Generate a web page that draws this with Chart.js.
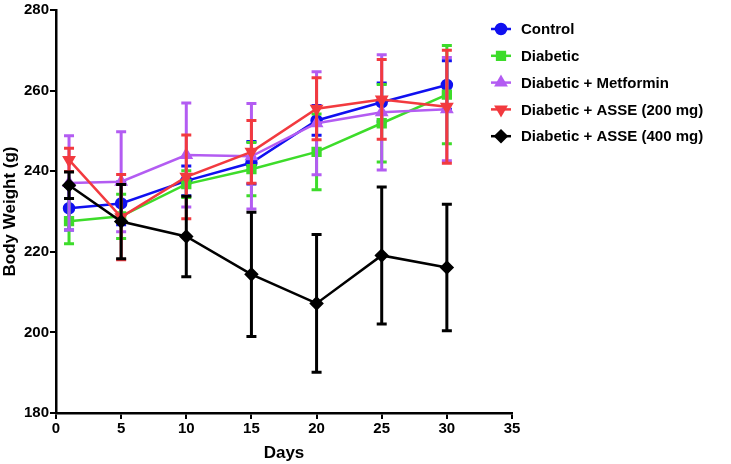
<!DOCTYPE html>
<html>
<head>
<meta charset="utf-8">
<script src="https://cdn.jsdelivr.net/npm/chart.js@4"></script>
<style>
  html, body { margin: 0; padding: 0; background: #fff; }
  #wrap { width: 731px; height: 464px; }
</style>
</head>
<body>
<div id="wrap"><canvas id="chart" width="731" height="464"></canvas></div>
<script>
// --------- Données ----------------------------------
const days = [1, 5, 10, 15, 20, 25, 30];

const control     = [230.8, 232.0, 237.6, 242.1, 252.6, 257.1, 261.4];
const controlSd   = [5.4, 5.3, 3.7, 5.3, 3.7, 4.8, 6.0];

const diabetic    = [227.6, 228.8, 236.8, 240.5, 244.8, 251.9, 259.0];
const diabeticSd  = [5.6, 5.5, 3.3, 6.6, 9.4, 9.6, 12.2];

const metformin   = [237.1, 237.4, 244.0, 243.7, 251.9, 254.6, 255.4];
const metforminSd = [11.7, 12.4, 12.9, 13.1, 12.8, 14.3, 12.8];

const asse200     = [242.8, 228.6, 238.6, 244.8, 255.5, 257.8, 256.0];
const asse200Sd   = [2.9, 10.6, 10.4, 7.8, 7.7, 9.9, 14.0];

const asse400     = [236.5, 227.5, 223.8, 214.4, 207.2, 219.1, 216.1];
const asse400Sd   = [3.3, 9.2, 10.0, 15.4, 17.1, 17.0, 15.7];

const xTicks = [0, 5, 10, 15, 20, 25, 30, 35];
const yTicks = [180, 200, 220, 240, 260, 280];

const FONT = "'Liberation Sans', Arial, sans-serif";

function points(values) {
    return values.map((v, i) => ({ x: days[i], y: v }));
}

function makeSet(label, values, sd, color, style, rotation, order) {
    return {
        label: label,
        data: points(values),
        sd: sd,
        borderColor: color,
        backgroundColor: color,
        pointBackgroundColor: color,
        pointBorderColor: color,
        pointStyle: style,
        pointRotation: rotation,
        pointRadius: style === "circle" ? 5 : 5.5,
        borderWidth: 2.5,
        tension: 0,
        order: order
    };
}

// --------- Barres d'erreur ----------
const errorBars = {
    id: "errorBars",
    beforeDatasetDraw(chart, args) {
        const ds = chart.data.datasets[args.index];
        const meta = args.meta;
        const y = chart.scales.y;
        const ctx = chart.ctx;
        ctx.save();
        ctx.strokeStyle = ds.borderColor;
        ctx.lineWidth = 3;
        meta.data.forEach((el, i) => {
            const v = ds.data[i].y;
            const top = y.getPixelForValue(v + ds.sd[i]);
            const bot = y.getPixelForValue(v - ds.sd[i]);
            ctx.beginPath();
            ctx.moveTo(el.x, top);
            ctx.lineTo(el.x, bot);
            ctx.moveTo(el.x - 5, top);
            ctx.lineTo(el.x + 5, top);
            ctx.moveTo(el.x - 5, bot);
            ctx.lineTo(el.x + 5, bot);
            ctx.stroke();
        });
        ctx.restore();
    }
};

// --------- Légende dessinée à droite ----------
const sideLegend = {
    id: "sideLegend",
    afterDraw(chart) {
        const ctx = chart.ctx;
        const sets = chart.data.datasets;
        ctx.save();
        sets.forEach((ds, i) => {
            const cy = 29 + i * 26.8;
            ctx.strokeStyle = ds.borderColor;
            ctx.lineWidth = 2.5;
            ctx.beginPath();
            ctx.moveTo(491, cy);
            ctx.lineTo(511, cy);
            ctx.stroke();
            Chart.helpers.drawPoint(ctx, {
                pointStyle: ds.pointStyle,
                rotation: ds.pointRotation,
                radius: ds.pointRadius,
                borderWidth: 1
            }, 501, cy);
            ctx.fillStyle = ds.borderColor;
            ctx.fill();
            ctx.fillStyle = "#000";
            ctx.font = "bold 15px " + FONT;
            ctx.textBaseline = "middle";
            ctx.textAlign = "left";
            ctx.fillText(ds.label, 521, cy + 1);
        });
        ctx.restore();
    }
};

const axisFont = { family: FONT, size: 15, weight: "bold" };
const titleFont = { family: FONT, size: 17, weight: "bold" };

new Chart(document.getElementById("chart"), {
    type: "line",
    data: {
        datasets: [
            makeSet("Control", control, controlSd, "#1010f0", "circle", 0, 5),
            makeSet("Diabetic", diabetic, diabeticSd, "#3ddc2a", "rect", 0, 4),
            makeSet("Diabetic + Metformin", metformin, metforminSd, "#b35cf2", "triangle", 0, 3),
            makeSet("Diabetic + ASSE (200 mg)", asse200, asse200Sd, "#f23a3f", "triangle", 180, 2),
            makeSet("Diabetic + ASSE (400 mg)", asse400, asse400Sd, "#000000", "rectRot", 0, 1)
        ]
    },
    options: {
        responsive: false,
        animation: false,
        layout: { padding: { top: 7, right: 219, left: 0, bottom: 0 } },
        plugins: { legend: { display: false }, tooltip: { enabled: false } },
        scales: {
            x: {
                type: "linear",
                min: 0,
                max: 35,
                afterBuildTicks: s => { s.ticks = xTicks.map(v => ({ value: v })); },
                afterFit: s => { s.height = 51; },
                ticks: { font: axisFont, color: "#000", padding: 1 },
                grid: { drawOnChartArea: false, color: "#000", lineWidth: 2, tickLength: 6 },
                border: { color: "#000", width: 2.5 },
                title: { display: true, text: "Days", font: titleFont, color: "#000", padding: 0 }
            },
            y: {
                min: 180,
                max: 280,
                afterBuildTicks: s => { s.ticks = yTicks.map(v => ({ value: v })); },
                afterFit: s => { s.width = 56; },
                ticks: { font: axisFont, color: "#000", padding: 1 },
                grid: { drawOnChartArea: false, color: "#000", lineWidth: 2, tickLength: 6 },
                border: { color: "#000", width: 2.5 },
                title: { display: true, text: "Body Weight (g)", font: titleFont, color: "#000", padding: 0 }
            }
        }
    },
    plugins: [errorBars, sideLegend]
});
</script>
</body>
</html>
